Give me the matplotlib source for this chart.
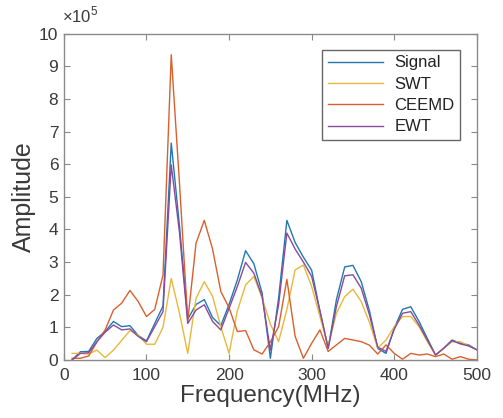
import matplotlib
matplotlib.use("Agg")
import matplotlib.pyplot as plt
import numpy as np

plt.rcParams["font.family"] = ["Liberation Sans", "DejaVu Sans"]
plt.rcParams["mathtext.fontset"] = "custom"
plt.rcParams["mathtext.rm"] = "Liberation Sans"

# frequency axis (MHz), amplitudes in units of 1e5
freq = np.arange(10, 510, 10)

signal = [0.0, 0.25, 0.26, 0.66, 0.87, 1.18, 1.02, 1.05, 0.75, 0.58,
          1.12, 1.65, 6.65, 4.10, 1.25, 1.70, 1.85, 1.30, 1.05, 1.70,
          2.45, 3.35, 2.95, 2.05, 0.05, 1.90, 4.28, 3.60, 3.15, 2.75,
          1.50, 0.35, 1.85, 2.85, 2.90, 2.40, 1.50, 0.35, 0.20, 0.97,
          1.55, 1.63, 1.18, 0.66, 0.15, 0.36, 0.61, 0.51, 0.46, 0.31]

swt = [0.20, 0.20, 0.18, 0.30, 0.07, 0.30, 0.60, 0.90, 0.76, 0.48,
       0.48, 1.00, 2.50, 1.43, 0.20, 1.89, 2.40, 1.95, 1.02, 0.20,
       1.50, 2.30, 2.56, 1.90, 1.10, 0.56, 1.55, 2.76, 2.91, 2.25,
       1.33, 0.41, 1.43, 1.94, 2.17, 1.79, 1.15, 0.36, 0.61, 1.02,
       1.33, 1.33, 1.02, 0.56, 0.15, 0.36, 0.56, 0.56, 0.43, 0.31]

ceemd = [0.05, 0.05, 0.12, 0.55, 0.92, 1.53, 1.74, 2.13, 1.79, 1.33,
         1.55, 2.60, 9.36, 5.40, 1.20, 3.58, 4.28, 3.40, 2.10, 1.60,
         0.87, 0.90, 0.31, 0.18, 0.55, 1.02, 2.47, 0.72, 0.05, 0.51,
         0.92, 0.26, 0.46, 0.66, 0.61, 0.56, 0.45, 0.18, 0.46, 0.20,
         0.02, 0.20, 0.15, 0.18, 0.10, 0.18, 0.02, 0.10, 0.02, 0.0]

ewt = [0.0, 0.20, 0.22, 0.56, 0.85, 1.07, 0.92, 0.95, 0.72, 0.56,
       1.02, 1.48, 5.98, 3.90, 1.12, 1.53, 1.69, 1.18, 0.92, 1.58,
       2.25, 2.99, 2.66, 1.94, 0.30, 1.70, 3.89, 3.40, 3.00, 2.56,
       1.50, 0.36, 1.64, 2.58, 2.61, 2.20, 1.38, 0.39, 0.26, 0.94,
       1.43, 1.48, 1.07, 0.61, 0.15, 0.36, 0.59, 0.49, 0.43, 0.31]

labels = ["Signal", "SWT", "CEEMD", "EWT"]
colors = ["#2178b0", "#e8b83a", "#d9602e", "#8a4a9c"]

fig = plt.figure(figsize=(5.03, 4.18), dpi=100)
ax = fig.add_axes([0.127, 0.139, 0.821, 0.780])

for ys, lab, c in zip([signal, swt, ceemd, ewt], labels, colors):
    ax.plot(freq, ys, color=c, lw=1.0, label=lab)

ax.set_xlim(0, 500)
ax.set_ylim(0, 10)
ax.set_xticks(np.arange(0, 501, 100))
ax.set_yticks(np.arange(0, 11, 1))

spine_c = "#8a8a8a"
for s in ax.spines.values():
    s.set_color(spine_c)
    s.set_linewidth(1.0)
ax.tick_params(direction="in", top=True, right=True, length=4, width=0.8,
               color=spine_c, labelcolor="#3a3a3a", labelsize=12.5)
ax.tick_params(axis="x", pad=6)
ax.tick_params(axis="y", pad=4)

ax.set_xlabel("Frequency(MHz)", fontsize=17.5, color="#3a3a3a", labelpad=1)
ax.set_ylabel("Amplitude", fontsize=18, color="#3a3a3a", labelpad=2)

ax.text(-0.005, 1.025, r"$\times10^{5}$", transform=ax.transAxes,
        fontsize=12, color="#3a3a3a", ha="left", va="bottom")

leg = ax.legend(loc="upper right", bbox_to_anchor=(0.96, 0.952), fontsize=12,
                frameon=True, fancybox=False, handlelength=3.3,
                handletextpad=0.7, borderpad=0.35, labelspacing=0.38,
                borderaxespad=0)
leg.get_frame().set_edgecolor("#404040")
leg.get_frame().set_linewidth(1.0)
for t in leg.get_texts():
    t.set_color("#222222")

fig.savefig("out.png", dpi=100)
